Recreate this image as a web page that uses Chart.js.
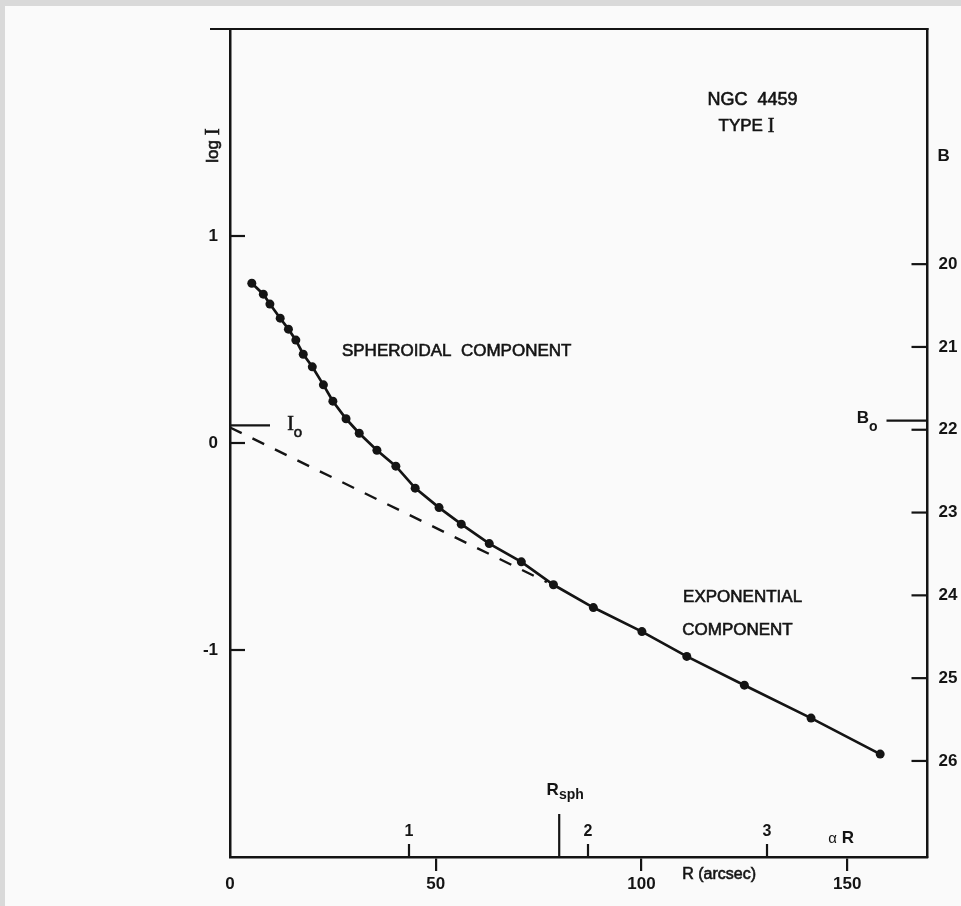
<!DOCTYPE html>
<html>
<head>
<meta charset="utf-8">
<title>NGC 4459 - luminosity profile</title>
<script src="https://cdn.jsdelivr.net/npm/chart.js@4.4.1/dist/chart.umd.min.js"></script>
<style>
  html, body { margin: 0; padding: 0; background: #dadada; }
  canvas { display: block; }
</style>
</head>
<body>
<canvas id="profile" width="961" height="906"></canvas>
<script>
// NGC 4459 - log I vs R, spheroid + exponential component

// measured profile (filled dots)
const radius = [5.3, 8.1, 9.7, 12.2, 14.2, 16.0, 17.8, 20.0, 22.7, 25.0, 28.2, 31.4, 35.7,
                40.3, 45.0, 50.8, 56.2, 63.0, 70.8, 78.6, 88.3, 100.1, 111.0, 125.0, 141.2, 158.0];
const logI = [0.772, 0.719, 0.671, 0.603, 0.550, 0.497, 0.429, 0.368, 0.281, 0.202, 0.117, 0.047, -0.035,
              -0.112, -0.218, -0.312, -0.392, -0.486, -0.574, -0.685, -0.795, -0.911, -1.031, -1.170, -1.329, -1.503];

// exponential component extrapolated inwards (dashed)
const diskRadius = [0, 77];
const diskLogI = [0.075, -0.672];

// axes
const xTicks = [0, 50, 100, 150];
const yTicks = [-1, 0, 1];
const bTicks = [20, 21, 22, 23, 24, 25, 26];
const bAtZero = 22.16;        // B where log I = 0
const aRTicks = [1, 2, 3];
const arcsecPerAR = 43.5;
const rSph = 80;
const logI0 = 0.085;
const bO = 21.89;

const ink = '#141414';
const paper = '#fafafa';
const SANS = '"Liberation Sans", Arial, sans-serif';
const SERIF = '"Liberation Serif", "DejaVu Serif", serif';

// draw a row of text pieces with different fonts (heavy = thin outline for a medium weight)
function runs(ctx, x, y, parts, align, heavy) {
    let total = 0;
    parts.forEach(p => { ctx.font = p[1]; total += ctx.measureText(p[0]).width; });
    let cx = align === 'center' ? x - total / 2 : align === 'right' ? x - total : x;
    ctx.textAlign = 'left';
    ctx.textBaseline = 'middle';
    parts.forEach(p => {
        ctx.font = p[1];
        ctx.fillText(p[0], cx, y + (p[2] || 0));
        if (heavy) {
            ctx.lineWidth = 0.6;
            ctx.strokeText(p[0], cx, y + (p[2] || 0));
        }
        cx += ctx.measureText(p[0]).width;
    });
}

const paperPlugin = {
    id: 'paper',
    beforeDraw(chart) {
        const ctx = chart.ctx;
        ctx.save();
        ctx.fillStyle = '#d9d9d9';
        ctx.fillRect(0, 0, chart.width, chart.height);
        ctx.fillStyle = paper;
        ctx.fillRect(5, 6, chart.width - 5, chart.height - 6);
        ctx.restore();
    }
};

const marksPlugin = {
    id: 'marks',
    afterDraw(chart) {
        const ctx = chart.ctx;
        const area = chart.chartArea;
        const sx = chart.scales.x, sy = chart.scales.y, sb = chart.scales.b;
        ctx.save();
        ctx.strokeStyle = ink;
        ctx.fillStyle = ink;

        const line = (x1, y1, x2, y2) => {
            ctx.lineWidth = 2.2;
            ctx.beginPath(); ctx.moveTo(x1, y1); ctx.lineTo(x2, y2); ctx.stroke();
        };

        // top frame line
        line(area.left - 20, area.top, area.right + 1, area.top);

        // inward ticks, log I
        yTicks.forEach(v => line(area.left, sy.getPixelForValue(v), area.left + 15, sy.getPixelForValue(v)));
        // inward ticks, B
        bTicks.forEach(v => line(area.right - 16, sb.getPixelForValue(v), area.right, sb.getPixelForValue(v)));

        // I0 and B0 markers
        line(area.left, sy.getPixelForValue(logI0), area.left + 40, sy.getPixelForValue(logI0));
        line(area.right - 41, sb.getPixelForValue(bO), area.right, sb.getPixelForValue(bO));

        // aR scale along the bottom axis
        aRTicks.forEach(v => {
            const px = sx.getPixelForValue(v * arcsecPerAR);
            line(px, area.bottom, px, area.bottom - 13);
            runs(ctx, px, area.bottom - 25, [[String(v), 'bold 16px ' + SANS, 0]], 'center');
        });
        const rs = sx.getPixelForValue(rSph);
        line(rs, area.bottom, rs, area.bottom - 43);
        runs(ctx, rs + 6, area.bottom - 67, [['R', 'bold 17px ' + SANS, 0], ['sph', 'bold 14px ' + SANS, 5]], 'center');
        runs(ctx, sx.getPixelForValue(145.4), area.bottom - 19,
             [['α', '15px ' + SANS, 1], [' R', 'bold 17px ' + SANS, 0]], 'left');

        // axis titles
        runs(ctx, sx.getPixelForValue(109.9), area.bottom + 18, [['R (arcsec)', '16px ' + SANS, 0]], 'left', true);
        ctx.save();
        ctx.translate(area.left - 17, sy.getPixelForValue(1.437));
        ctx.rotate(-Math.PI / 2);
        runs(ctx, 0, 0, [['log ', '17px ' + SANS, 0], ['I', '21px ' + SERIF, 0]], 'center', true);
        ctx.restore();
        runs(ctx, area.right + 10, sy.getPixelForValue(1.384), [['B', 'bold 17px ' + SANS, 0]], 'left');

        // I0, B0
        runs(ctx, sx.getPixelForValue(13.9), sy.getPixelForValue(logI0) - 1,
             [['I', '20px ' + SERIF, 0], ['o', '15px ' + SANS, 8]], 'left', true);
        runs(ctx, area.right - 50, sb.getPixelForValue(bO) - 2,
             [['B', 'bold 17px ' + SANS, 0], ['o', 'bold 14px ' + SANS, 8]], 'right');

        // annotations
        runs(ctx, sx.getPixelForValue(27.2), sy.getPixelForValue(0.444),
             [['SPHEROIDAL  COMPONENT', '17px ' + SANS, 0]], 'left', true);
        runs(ctx, sx.getPixelForValue(110.1), sy.getPixelForValue(-0.746),
             [['EXPONENTIAL', '17px ' + SANS, 0]], 'left', true);
        runs(ctx, sx.getPixelForValue(109.9), sy.getPixelForValue(-0.903),
             [['COMPONENT', '17px ' + SANS, 0]], 'left', true);
        runs(ctx, sx.getPixelForValue(127.0), sy.getPixelForValue(1.657),
             [['NGC  4459', '18px ' + SANS, 0]], 'center', true);
        runs(ctx, sx.getPixelForValue(125.5), sy.getPixelForValue(1.529),
             [['TYPE ', '17px ' + SANS, 0], ['I', '20px ' + SERIF, 0]], 'center', true);

        ctx.restore();
    }
};

const tickFont = { family: SANS, size: 17, weight: 'bold' };

new Chart(document.getElementById('profile'), {
    type: 'scatter',
    data: {
        datasets: [
            {
                label: 'profile',
                data: radius.map((r, i) => ({ x: r, y: logI[i] })),
                showLine: true,
                borderColor: ink,
                borderWidth: 2.7,
                pointRadius: 4.5,
                pointBackgroundColor: ink,
                pointBorderColor: ink,
                pointBorderWidth: 0
            },
            {
                label: 'exponential',
                data: diskRadius.map((r, i) => ({ x: r, y: diskLogI[i] })),
                showLine: true,
                borderColor: ink,
                borderWidth: 2.4,
                borderDash: [13, 12],
                pointRadius: 0
            }
        ]
    },
    options: {
        responsive: false,
        devicePixelRatio: 1,
        animation: false,
        layout: { padding: { top: 29, left: 0, right: 0, bottom: 0 } },
        plugins: {
            legend: { display: false },
            tooltip: { enabled: false }
        },
        scales: {
            x: {
                type: 'linear',
                position: 'bottom',
                min: 0,
                max: 169.5,
                afterBuildTicks: s => { s.ticks = xTicks.map(v => ({ value: v })); },
                afterFit: s => { s.height = 49; },
                ticks: { color: ink, font: tickFont, padding: 3, maxRotation: 0 },
                grid: {
                    display: true,
                    drawOnChartArea: false,
                    drawTicks: true,
                    tickLength: 14,
                    lineWidth: 2.2,
                    color: c => (c.tick && c.tick.value === 0) ? 'rgba(0,0,0,0)' : ink
                },
                border: { display: true, color: ink, width: 2.5 }
            },
            y: {
                type: 'linear',
                position: 'left',
                min: -2,
                max: 2,
                afterBuildTicks: s => { s.ticks = yTicks.map(v => ({ value: v })); },
                afterFit: s => { s.width = 230; },
                ticks: { color: ink, font: tickFont, padding: 12 },
                grid: { display: false, drawTicks: false },
                border: { display: true, color: ink, width: 2.5 }
            },
            b: {
                type: 'linear',
                position: 'right',
                reverse: true,
                min: bAtZero - 5,
                max: bAtZero + 5,
                afterBuildTicks: s => { s.ticks = bTicks.map(v => ({ value: v })); },
                afterFit: s => { s.width = 33.5; },
                ticks: { color: ink, font: tickFont, padding: 11 },
                grid: { display: false, drawTicks: false },
                border: { display: true, color: ink, width: 2.5 }
            }
        }
    },
    plugins: [paperPlugin, marksPlugin]
});
</script>
</body>
</html>
